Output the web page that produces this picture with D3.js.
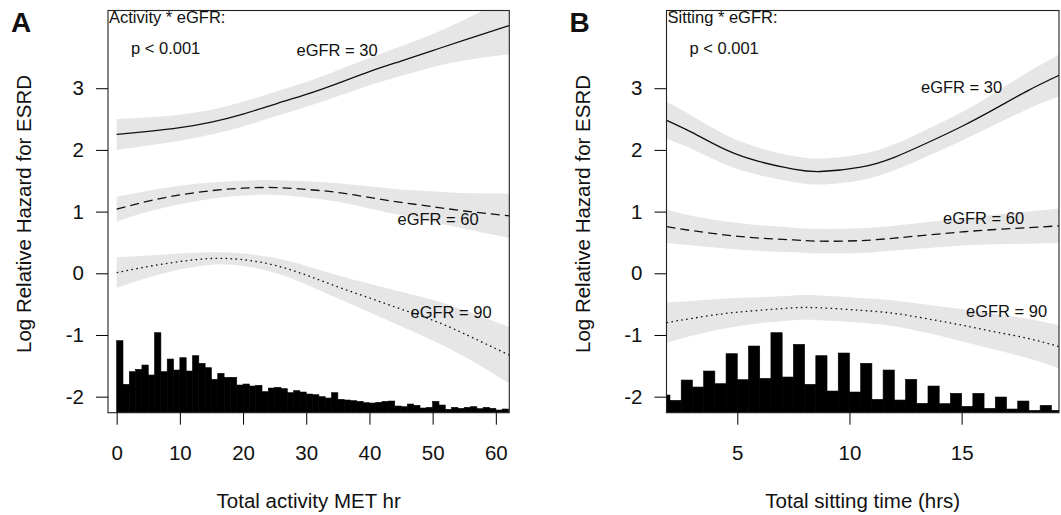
<!DOCTYPE html>
<html>
<head>
<meta charset="utf-8">
<script src="https://cdn.jsdelivr.net/npm/d3@7"></script>
<style>
body { margin: 0; background: #fff; }
text { font-family: "Liberation Sans", Arial, Helvetica, sans-serif; fill: #111; }
</style>
</head>
<body>
<div id="chart"></div>
<script>
// Panel A: total activity (MET hr)
var actX = [0, 5, 10, 15, 20, 25, 30, 35, 40, 45, 50, 55, 62.2];
var act30 = [2.25, 2.30, 2.36, 2.45, 2.58, 2.74, 2.90, 3.08, 3.27, 3.44, 3.61, 3.78, 4.02];
var act30Lo = [2.00, 2.07, 2.15, 2.25, 2.38, 2.54, 2.70, 2.87, 3.05, 3.20, 3.34, 3.45, 3.55];
var act30Hi = [2.50, 2.53, 2.57, 2.65, 2.78, 2.94, 3.10, 3.29, 3.49, 3.68, 3.88, 4.11, 4.49];
var act60 = [1.04, 1.17, 1.27, 1.34, 1.38, 1.39, 1.36, 1.31, 1.23, 1.15, 1.08, 1.01, 0.93];
var act60Lo = [0.84, 1.00, 1.12, 1.21, 1.26, 1.27, 1.23, 1.16, 1.05, 0.94, 0.83, 0.72, 0.57];
var act60Hi = [1.24, 1.34, 1.42, 1.47, 1.50, 1.51, 1.49, 1.46, 1.41, 1.36, 1.33, 1.30, 1.29];
var act90 = [0.01, 0.11, 0.19, 0.24, 0.22, 0.13, -0.03, -0.22, -0.40, -0.58, -0.76, -0.98, -1.33];
var act90Lo = [-0.24, -0.07, 0.06, 0.14, 0.12, 0.01, -0.18, -0.41, -0.63, -0.86, -1.09, -1.35, -1.79];
var act90Hi = [0.26, 0.29, 0.32, 0.34, 0.32, 0.25, 0.12, -0.03, -0.17, -0.30, -0.43, -0.60, -0.87];
// histogram of activity, bins of 1 MET hr starting at 0
var actCounts = [216, 85, 123, 130, 143, 113, 240, 123, 161, 128, 165, 125, 171, 148, 135, 100,
  118, 106, 106, 83, 86, 80, 82, 63, 74, 76, 72, 60, 66, 62, 56, 54, 48, 44, 60, 40, 38, 36,
  34, 30, 29, 31, 34, 35, 20, 18, 26, 22, 14, 16, 34, 23, 10, 16, 13, 16, 18, 12, 16, 13, 8, 11];
var actBins = d3.range(0, actCounts.length);
var actTicks = [0, 10, 20, 30, 40, 50, 60];

// Panel B: total sitting time (hrs)
var sitX = [1.85, 3, 4.5, 6, 7.5, 8.7, 10.5, 12, 13.5, 15, 16.5, 18, 19.35];
var sit30 = [2.48, 2.28, 2.00, 1.81, 1.69, 1.65, 1.72, 1.88, 2.12, 2.38, 2.67, 2.97, 3.21];
var sit30Lo = [2.18, 2.01, 1.76, 1.59, 1.48, 1.44, 1.51, 1.67, 1.90, 2.15, 2.41, 2.67, 2.87];
var sit30Hi = [2.78, 2.55, 2.24, 2.03, 1.90, 1.86, 1.93, 2.09, 2.34, 2.61, 2.93, 3.27, 3.55];
var sit60 = [0.755, 0.69, 0.62, 0.57, 0.54, 0.52, 0.53, 0.57, 0.62, 0.67, 0.71, 0.74, 0.77];
var sit60Lo = [0.49, 0.45, 0.40, 0.36, 0.34, 0.32, 0.33, 0.37, 0.41, 0.45, 0.47, 0.48, 0.49];
var sit60Hi = [1.03, 0.93, 0.84, 0.78, 0.74, 0.72, 0.73, 0.77, 0.83, 0.89, 0.95, 1.00, 1.05];
var sit90 = [-0.80, -0.73, -0.65, -0.60, -0.56, -0.56, -0.60, -0.65, -0.74, -0.84, -0.95, -1.06, -1.19];
var sit90Lo = [-1.13, -1.01, -0.89, -0.81, -0.76, -0.76, -0.80, -0.86, -0.97, -1.10, -1.24, -1.38, -1.54];
var sit90Hi = [-0.47, -0.45, -0.41, -0.39, -0.36, -0.36, -0.40, -0.44, -0.51, -0.58, -0.66, -0.74, -0.84];
// histogram of sitting time, half hour bins starting at 1.5
var sitCounts = [53, 37, 98, 77, 125, 87, 177, 99, 200, 103, 240, 107, 205, 85, 171, 65, 179, 62,
  148, 40, 128, 38, 100, 28, 80, 27, 58, 19, 58, 13, 47, 11, 35, 7, 22, 7];
var sitBins = d3.range(sitCounts.length).map(function(i) { return 1.5 + i * 0.5; });
var sitTicks = [5, 10, 15];

var yTicks = [-2, -1, 0, 1, 2, 3];

var svg = d3.select("#chart").append("svg")
  .attr("width", 1061)
  .attr("height", 515);

function drawPanel(p) {
  var top = 10.5, bottom = 412.7;
  var x = d3.scaleLinear().domain(p.xDomain).range([p.left, p.right]);
  var y = d3.scaleLinear().domain([-2.26, 4.26]).range([bottom, top]);
  var h = d3.scaleLinear().domain([0, d3.max(p.counts)]).range([bottom, bottom - 80]);

  var g = svg.append("g");
  g.append("clipPath").attr("id", "clip" + p.id)
    .append("rect")
    .attr("x", p.left).attr("y", top)
    .attr("width", p.right - p.left).attr("height", bottom - top);

  var plot = g.append("g").attr("clip-path", "url(#clip" + p.id + ")");

  var area = d3.area()
    .x(function(d) { return x(d.x); })
    .y0(function(d) { return y(d.lo); })
    .y1(function(d) { return y(d.hi); })
    .curve(d3.curveNatural);
  var line = d3.line()
    .x(function(d) { return x(d.x); })
    .y(function(d) { return y(d.v); })
    .curve(d3.curveNatural);

  var dashes = [null, "9,5", "1.6,3.4"];
  p.series.forEach(function(s) {
    var pts = p.xs.map(function(xv, i) {
      return { x: xv, v: s.fit[i], lo: s.lo[i], hi: s.hi[i] };
    });
    plot.append("path").attr("d", area(pts)).attr("fill", "#e6e6e6");
  });
  p.series.forEach(function(s, k) {
    var pts = p.xs.map(function(xv, i) { return { x: xv, v: s.fit[i] }; });
    plot.append("path").attr("d", line(pts))
      .attr("fill", "none")
      .attr("stroke", "#111")
      .attr("stroke-width", 1.3)
      .attr("stroke-dasharray", dashes[k]);
  });

  // histogram along the bottom
  plot.selectAll("rect.bar")
    .data(p.counts)
    .enter().append("rect")
    .attr("class", "bar")
    .attr("x", function(d, i) { return x(p.bins[i]); })
    .attr("width", function(d, i) { return x(p.bins[i] + p.binWidth) - x(p.bins[i]); })
    .attr("y", function(d) { return h(d); })
    .attr("height", function(d) { return bottom - h(d); })
    .attr("fill", "#000")
    .attr("stroke", "#000")
    .attr("stroke-width", 0.6);

  // box
  g.append("rect")
    .attr("x", p.left).attr("y", top)
    .attr("width", p.right - p.left).attr("height", bottom - top)
    .attr("fill", "none").attr("stroke", "#222").attr("stroke-width", 1.1);

  // y axis
  var yAxis = d3.axisLeft(y).tickValues(yTicks).tickSize(12).tickPadding(12)
    .tickFormat(d3.format("d"));
  var ya = g.append("g").attr("transform", "translate(" + p.left + ",0)").call(yAxis);
  ya.select(".domain").remove();
  ya.selectAll("text").style("font-size", "20.5px").attr("fill", "#111")
    .text(function(d) { return d < 0 ? "-" + Math.abs(d) : d; });

  // x axis
  var xAxis = d3.axisBottom(x).tickValues(p.ticks).tickSize(12).tickPadding(20);
  var xa = g.append("g").attr("transform", "translate(0," + bottom + ")").call(xAxis);
  xa.select(".domain").remove();
  xa.selectAll("text").style("font-size", "20.5px").attr("fill", "#111")
    .attr("dy", null).attr("y", 47);

  g.append("text")
    .attr("x", (p.left + p.right) / 2).attr("y", 508)
    .attr("text-anchor", "middle")
    .style("font-size", "20.5px")
    .text(p.xLabel);

  g.append("text")
    .attr("transform", "translate(" + (p.left - 77) + ",214) rotate(-90)")
    .attr("text-anchor", "middle")
    .style("font-size", "20.5px")
    .text("Log Relative Hazard for ESRD");

  g.append("text")
    .attr("x", p.left - 97).attr("y", 32)
    .style("font-size", "28px").style("font-weight", "bold")
    .text(p.id);

  g.append("text")
    .attr("x", p.left + 1).attr("y", 23)
    .style("font-size", "16.5px")
    .text(p.title);
  g.append("text")
    .attr("x", p.left + 23).attr("y", 54)
    .style("font-size", "16.5px")
    .text("p < 0.001");

  p.series.forEach(function(s) {
    g.append("text")
      .attr("x", s.labelAt[0]).attr("y", s.labelAt[1])
      .style("font-size", "16.5px")
      .text(s.name);
  });
}

drawPanel({
  id: "A", left: 108, right: 509.3, xDomain: [-1.37, 62.13],
  xs: actX, counts: actCounts, bins: actBins, binWidth: 1, ticks: actTicks,
  xLabel: "Total activity MET hr", title: "Activity * eGFR:",
  series: [
    { name: "eGFR = 30", fit: act30, lo: act30Lo, hi: act30Hi, labelAt: [296.5, 56] },
    { name: "eGFR = 60", fit: act60, lo: act60Lo, hi: act60Hi, labelAt: [397.5, 225] },
    { name: "eGFR = 90", fit: act90, lo: act90Lo, hi: act90Hi, labelAt: [410.5, 318] }
  ]
});

drawPanel({
  id: "B", left: 666.5, right: 1059, xDomain: [1.845, 19.34],
  xs: sitX, counts: sitCounts, bins: sitBins, binWidth: 0.5, ticks: sitTicks,
  xLabel: "Total sitting time (hrs)", title: "Sitting * eGFR:",
  series: [
    { name: "eGFR = 30", fit: sit30, lo: sit30Lo, hi: sit30Hi, labelAt: [921, 93] },
    { name: "eGFR = 60", fit: sit60, lo: sit60Lo, hi: sit60Hi, labelAt: [943, 224] },
    { name: "eGFR = 90", fit: sit90, lo: sit90Lo, hi: sit90Hi, labelAt: [966, 317] }
  ]
});
</script>
</body>
</html>
